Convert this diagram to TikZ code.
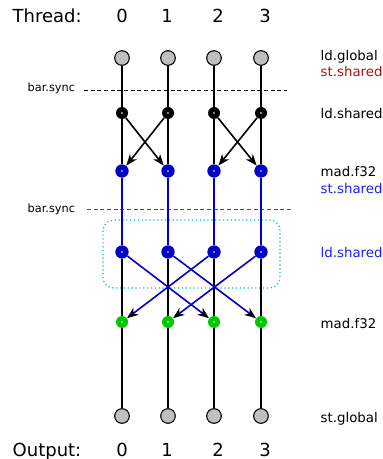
\documentclass[tikz,border=0pt]{standalone}
\usepackage{fontspec}
\setmainfont{DejaVu Sans}
\usetikzlibrary{arrows.meta}

\definecolor{azulesc}{RGB}{0,0,200}
\definecolor{azulclaro}{RGB}{30,30,255}
\definecolor{verdeclaro}{RGB}{0,200,0}
\definecolor{vinho}{RGB}{165,20,20}
\definecolor{ciano}{RGB}{0,190,190}

\begin{document}
\begin{tikzpicture}
			[x=0.75pt, y=-0.75pt,
			ponto/.style	={path picture={\fill[white] (path picture bounding box.center) circle (0.7pt);}},
			cinza/.style	={circle, draw=black, fill=gray!50, line width=0.8pt, minimum size=11pt, inner sep=0pt},
			preto/.style	={circle, fill=black, 		minimum size=9pt, 	inner sep=0pt, ponto},
			azul/.style		={circle, fill=azulesc, 	minimum size=10pt, 	inner sep=0pt, ponto},
			verde/.style	={circle, fill=verdeclaro, 	minimum size=9pt, 	inner sep=0pt, ponto},
			titulo/.style	={anchor=base, font=\fontsize{13.5}{16}\selectfont},
			rotulo/.style	={anchor=base west, font=\fontsize{10}{12}\selectfont},
			sinc/.style		={anchor=base west, font=\fontsize{8.5}{10}\selectfont},
			fio/.style		={line width=1.6pt},
			fioazul/.style	={line width=2pt, draw=azulesc},
			seta/.style		={line width=1.2pt, -{Stealth[length=8.5pt, width=6.5pt, inset=2.5pt, color=black]}},]
			\useasboundingbox (0,0) rectangle (382,459);

			% cabecalho e rodape
			\node[titulo, anchor=base west] (thr) at (8,22.5) {Thread:};
			\node[titulo, anchor=base west] (out) at (8,456) {Output:};
			\foreach \i/\x in {0/122,1/167,2/218,3/265} {
				\node[titulo] (t\i) at (\x,22.5) {\i};
				\node[titulo] (o\i) at (\x,456) {\i};
			}

			% barreiras
			\node[sinc] (bs1) at (23,92) {bar.sync};
			\draw[dash pattern=on 3pt off 2pt, line width=0.6pt] (84,90) -- (287,90);
			\node[sinc] (bs2) at (23,213) {bar.sync};
			\draw[dash pattern=on 3pt off 2pt, line width=0.6pt, draw=black!70] (87,209) -- (291,209);

			% regiao do segundo ld.shared
			\draw[ciano, dotted, line width=0.9pt, rounded corners=8pt] (103,220) rectangle (280,288);

			% nos de cada thread
			\foreach \i/\x in {0/122,1/168,2/214,3/261} {
				\node[cinza] (gl\i) at (\x,58)  {};
				\node[preto] (ls\i) at (\x,113) {};
				\node[azul]  (ma\i) at (\x,171) {};
				\node[azul]  (lb\i) at (\x,252) {};
				\node[verde] (mb\i) at (\x,322) {};
				\node[cinza] (sg\i) at (\x,416) {};
				\draw[fio] (gl\i) -- (ls\i);
				\draw[fio] (ls\i) -- (ma\i);
				\draw[fioazul] (ma\i) -- (lb\i);
				\draw[fio] (lb\i) -- (mb\i);
				\draw[fio] (mb\i) -- (sg\i);
			}

			% trocas via memoria compartilhada
			\draw[seta] (ls0) -- (ma1);
			\draw[seta] (ls1) -- (ma0);
			\draw[seta] (ls2) -- (ma3);
			\draw[seta] (ls3) -- (ma2);
			\draw[seta, draw=azulesc] (lb0) -- (mb2);
			\draw[seta, draw=azulesc] (lb1) -- (mb3);
			\draw[seta, draw=azulesc] (lb2) -- (mb0);
			\draw[seta, draw=azulesc] (lb3) -- (mb1);

			% instrucoes
			\node[rotulo] (r1) at (316,61)  {ld.global};
			\node[rotulo, text=vinho] (r2) at (316,77) {st.shared};
			\node[rotulo] (r3) at (316,119) {ld.shared};
			\node[rotulo] (r4) at (316,177) {mad.f32};
			\node[rotulo, text=azulclaro] (r5) at (316,194) {st.shared};
			\node[rotulo, text=azulclaro] (r6) at (316,257) {ld.shared};
			\node[rotulo] (r7) at (316,328) {mad.f32};
			\node[rotulo] (r8) at (316,422) {st.global};
		\end{tikzpicture}
\end{document}
